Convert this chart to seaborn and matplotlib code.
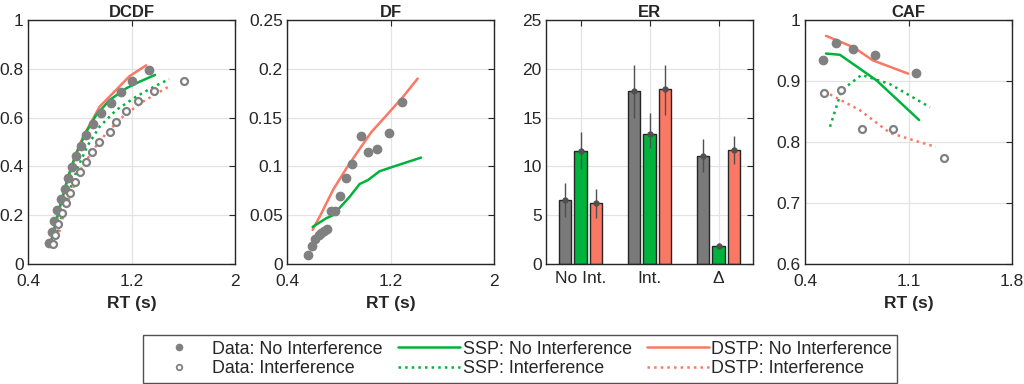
import numpy as np
import matplotlib
matplotlib.use("Agg")
import matplotlib.pyplot as plt
from matplotlib.lines import Line2D
import seaborn as sns

# colours
GRAY = "#808080"
GREEN = "#00b33c"
RED = "#fa7864"

# ---- DCDF data ----
dcdf_p_noint = [0.085, 0.132, 0.178, 0.221, 0.265, 0.309, 0.352, 0.399, 0.443,
                0.485, 0.53, 0.574, 0.618, 0.661, 0.706, 0.75, 0.795]
dcdf_rt_noint = [0.564, 0.582, 0.602, 0.628, 0.654, 0.685, 0.708, 0.741, 0.774,
                 0.808, 0.851, 0.902, 0.967, 1.038, 1.121, 1.205, 1.338]
dcdf_p_int = [0.08, 0.12, 0.165, 0.21, 0.25, 0.292, 0.337, 0.378, 0.419,
              0.46, 0.50, 0.542, 0.583, 0.627, 0.669, 0.709, 0.751]
dcdf_rt_int = [0.59, 0.61, 0.635, 0.66, 0.69, 0.723, 0.762, 0.80, 0.846,
               0.896, 0.948, 1.031, 1.082, 1.158, 1.25, 1.372, 1.608]

dcdf_ssp_noint_x = [0.582, 0.646, 0.71, 0.774, 0.851, 0.928, 1.031, 1.159, 1.262, 1.382]
dcdf_ssp_noint_y = [0.098, 0.235, 0.358, 0.454, 0.542, 0.611, 0.672, 0.72, 0.747, 0.775]
dcdf_ssp_int_x = [0.608, 0.659, 0.723, 0.787, 0.864, 0.954, 1.082, 1.236, 1.364, 1.492]
dcdf_ssp_int_y = [0.078, 0.194, 0.303, 0.399, 0.488, 0.563, 0.631, 0.686, 0.724, 0.758]
dcdf_dstp_noint_x = [0.582, 0.633, 0.698, 0.762, 0.826, 0.89, 0.954, 1.056, 1.185, 1.313]
dcdf_dstp_noint_y = [0.101, 0.208, 0.331, 0.44, 0.522, 0.583, 0.645, 0.70, 0.77, 0.814]
dcdf_dstp_int_x = [0.615, 0.672, 0.736, 0.813, 0.902, 1.005, 1.133, 1.287, 1.497]
dcdf_dstp_int_y = [0.078, 0.194, 0.296, 0.392, 0.467, 0.536, 0.604, 0.665, 0.73]

# ---- DF data ----
df_rt = [0.564, 0.592, 0.62, 0.646, 0.664, 0.685, 0.708, 0.738, 0.772,
         0.81, 0.856, 0.9, 0.969, 1.026, 1.097, 1.187, 1.29]
df_val = [0.009, 0.018, 0.026, 0.030, 0.032, 0.034, 0.036, 0.054, 0.054,
          0.070, 0.088, 0.102, 0.131, 0.115, 0.118, 0.134, 0.166]
df_ssp_x = [0.598, 0.705, 0.756, 0.885, 0.962, 1.026, 1.115, 1.218, 1.436]
df_ssp_y = [0.038, 0.047, 0.050, 0.069, 0.082, 0.086, 0.095, 0.0996, 0.109]
df_dstp_x = [0.598, 0.666, 0.756, 0.859, 0.936, 1.051, 1.167, 1.295, 1.41]
df_dstp_y = [0.035, 0.052, 0.076, 0.098, 0.113, 0.135, 0.152, 0.171, 0.19]

# ---- ER data ----
er_groups = ["No Int.", "Int.", "\u0394"]
er_data = [6.6, 17.7, 11.1]
er_data_lo = [4.85, 15.0, 9.4]
er_data_hi = [8.3, 20.4, 12.8]
er_ssp = [11.6, 13.35, 1.8]
er_ssp_lo = [9.7, 11.9, 1.5]
er_ssp_hi = [13.5, 15.5, 2.2]
er_dstp = [6.2, 17.9, 11.7]
er_dstp_lo = [4.7, 15.3, 10.2]
er_dstp_hi = [7.7, 20.4, 13.15]

# ---- CAF data ----
caf_rt_noint = [0.524, 0.607, 0.722, 0.875, 1.15]
caf_acc_noint = [0.934, 0.963, 0.952, 0.942, 0.913]
caf_rt_int = [0.526, 0.643, 0.787, 0.993, 1.341]
caf_acc_int = [0.880, 0.885, 0.821, 0.821, 0.773]
caf_ssp_noint_x = [0.542, 0.636, 0.884, 1.172]
caf_ssp_noint_y = [0.945, 0.943, 0.901, 0.836]
caf_ssp_int_x = [0.569, 0.648, 0.783, 0.974, 1.245]
caf_ssp_int_y = [0.825, 0.885, 0.91, 0.895, 0.857]
caf_dstp_noint_x = [0.542, 0.731, 0.857, 1.098]
caf_dstp_noint_y = [0.974, 0.955, 0.934, 0.912]
caf_dstp_int_x = [0.569, 0.772, 0.974, 1.132, 1.285]
caf_dstp_int_y = [0.878, 0.852, 0.815, 0.803, 0.792]

sns.set_style("whitegrid")
plt.rcParams['font.family'] = ['Liberation Sans', 'DejaVu Sans']

fig = plt.figure(figsize=(10.24, 3.84), dpi=100)
W, H = 1024, 384
lefts = [28, 287, 546, 805]
axes = [fig.add_axes([l / W, (H - 264) / H, 207 / W, 244 / H]) for l in lefts]


def style(ax, title):
    ax.set_title(title, fontsize=12, fontweight="bold", pad=2)
    ax.tick_params(direction="in", length=4, labelsize=12.5, top=True, right=True,
                   color="#262626", labelcolor="#262626")
    ax.tick_params(axis="x", pad=7.5)
    ax.tick_params(axis="y", pad=3)
    ax.grid(True, color="#e3e3e3", linewidth=0.9)
    for s in ax.spines.values():
        s.set_color("#262626")
        s.set_linewidth(1.0)


def line(ax, x, y, color, ls="-"):
    sns.lineplot(x=x, y=y, ax=ax, color=color, linestyle=ls, linewidth=1.8,
                 sort=False, estimator=None)


def dots(ax, x, y, filled=True):
    if filled:
        ax.plot(x, y, "o", color=GRAY, ms=6, mec=GRAY, zorder=3)
    else:
        ax.plot(x, y, "o", mfc="white", mec=GRAY, mew=1.6, ms=5, zorder=3)


def rt_label(ax):
    ax.set_xlabel("RT (s)", fontsize=12.5, fontweight="bold", labelpad=5)


# DCDF
ax = axes[0]
line(ax, dcdf_dstp_noint_x, dcdf_dstp_noint_y, RED)
line(ax, dcdf_ssp_noint_x, dcdf_ssp_noint_y, GREEN)
line(ax, dcdf_ssp_int_x, dcdf_ssp_int_y, GREEN, ":")
line(ax, dcdf_dstp_int_x, dcdf_dstp_int_y, RED, ":")
dots(ax, dcdf_rt_noint, dcdf_p_noint, True)
dots(ax, dcdf_rt_int, dcdf_p_int, False)
ax.set_xlim(0.4, 2)
ax.set_ylim(0, 1)
ax.set_xticks([0.4, 1.2, 2])
ax.set_xticklabels(["0.4", "1.2", "2"])
ax.set_yticks([0, 0.2, 0.4, 0.6, 0.8, 1])
ax.set_yticklabels(["0", "0.2", "0.4", "0.6", "0.8", "1"])
style(ax, "DCDF")
rt_label(ax)

# DF
ax = axes[1]
line(ax, df_dstp_x, df_dstp_y, RED)
line(ax, df_ssp_x, df_ssp_y, GREEN)
dots(ax, df_rt, df_val, True)
ax.set_xlim(0.4, 2)
ax.set_ylim(0, 0.25)
ax.set_xticks([0.4, 1.2, 2])
ax.set_xticklabels(["0.4", "1.2", "2"])
ax.set_yticks([0, 0.05, 0.1, 0.15, 0.2, 0.25])
ax.set_yticklabels(["0", "0.05", "0.1", "0.15", "0.2", "0.25"])
style(ax, "DF")
rt_label(ax)

# ER
ax = axes[2]
pos = np.arange(1, 4)
off = 0.225
bw = 0.18
for k, (vals, lo, hi, col) in enumerate([
        (er_data, er_data_lo, er_data_hi, "#7a7a7a"),
        (er_ssp, er_ssp_lo, er_ssp_hi, GREEN),
        (er_dstp, er_dstp_lo, er_dstp_hi, RED)]):
    xs = pos + (k - 1) * off
    ax.bar(xs, vals, width=bw, color=col, edgecolor="#262626", linewidth=1.0, zorder=2)
    vals = np.array(vals)
    yerr = [vals - np.array(lo), np.array(hi) - vals]
    ax.errorbar(xs, vals, yerr=yerr, fmt="o", ms=3.5, color="#505050",
                elinewidth=1.0, capsize=0, zorder=3)
ax.set_xlim(0.5, 3.5)
ax.set_ylim(0, 25)
ax.set_xticks(pos)
ax.set_xticklabels(er_groups)
ax.set_yticks([0, 5, 10, 15, 20, 25])
style(ax, "ER")
ax.tick_params(axis="x", pad=5)

# CAF
ax = axes[3]
line(ax, caf_dstp_noint_x, caf_dstp_noint_y, RED)
line(ax, caf_ssp_noint_x, caf_ssp_noint_y, GREEN)
line(ax, caf_ssp_int_x, caf_ssp_int_y, GREEN, ":")
line(ax, caf_dstp_int_x, caf_dstp_int_y, RED, ":")
dots(ax, caf_rt_noint, caf_acc_noint, True)
dots(ax, caf_rt_int, caf_acc_int, False)
ax.set_xlim(0.4, 1.8)
ax.set_ylim(0.6, 1)
ax.set_xticks([0.4, 1.1, 1.8])
ax.set_yticks([0.6, 0.7, 0.8, 0.9, 1.0])
ax.set_yticklabels(["0.6", "0.7", "0.8", "0.9", "1"])
style(ax, "CAF")
rt_label(ax)

# legend
handles = [
    Line2D([], [], marker="o", ls="none", color=GRAY, ms=4.5),
    Line2D([], [], marker="o", ls="none", mfc="white", mec=GRAY, mew=1.3, ms=4),
    Line2D([], [], color=GREEN, lw=1.8),
    Line2D([], [], color=GREEN, lw=1.8, ls=":"),
    Line2D([], [], color=RED, lw=1.8),
    Line2D([], [], color=RED, lw=1.8, ls=":"),
]
labels = ["Data: No Interference", "Data: Interference",
          "SSP: No Interference", "SSP: Interference",
          "DSTP: No Interference", "DSTP: Interference"]
leg = fig.legend(handles, labels, ncol=3, loc="center",
                 bbox_to_anchor=(520 / W, (H - 359) / H),
                 fontsize=12.9, frameon=True, fancybox=False, handlelength=3.45,
                 columnspacing=0.85, handletextpad=0.15, labelspacing=0.15,
                 borderpad=0.3, borderaxespad=0)
leg.get_frame().set_edgecolor("#262626")
leg.get_frame().set_linewidth(1.0)

fig.savefig("out.png", dpi=100)
